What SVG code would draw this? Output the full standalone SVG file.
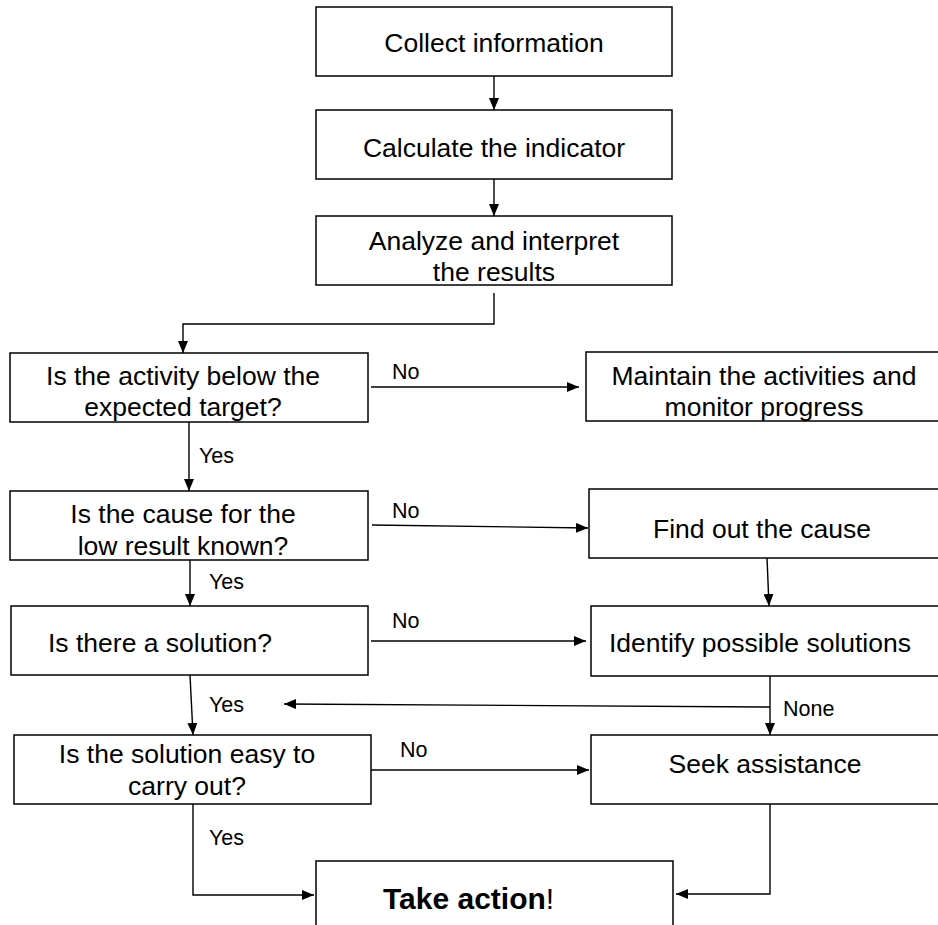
<svg xmlns="http://www.w3.org/2000/svg" width="938" height="925" viewBox="0 0 938 925">
<style>
.box{fill:#fff;stroke:#000;stroke-width:1.5}
.t{font-family:"Liberation Sans",Arial,sans-serif;font-size:26.5px;fill:#000;text-anchor:middle}
.l{font-family:"Liberation Sans",Arial,sans-serif;font-size:21.5px;fill:#000}
.c{fill:none;stroke:#000;stroke-width:1.4}
</style>
<defs>
<marker id="ah" viewBox="0 0 12 10" refX="12" refY="5" markerWidth="12" markerHeight="10" markerUnits="userSpaceOnUse" orient="auto">
<path d="M0,0 L12,5 L0,10 z" fill="#000"/>
</marker>
</defs>
<rect width="938" height="925" fill="#fff"/>
<g id="connectors">
<path class="c" d="M494,76 V110" marker-end="url(#ah)"/>
<path class="c" d="M494,179 V216" marker-end="url(#ah)"/>
<path class="c" d="M494,293 V324 H183 V353" marker-end="url(#ah)"/>
<path class="c" d="M371,387 H579" marker-end="url(#ah)"/>
<path class="c" d="M189,422 V491" marker-end="url(#ah)"/>
<path class="c" d="M372,525 L588,528" marker-end="url(#ah)"/>
<path class="c" d="M190,560 V606" marker-end="url(#ah)"/>
<path class="c" d="M767,558 L769,606" marker-end="url(#ah)"/>
<path class="c" d="M371,641 H586" marker-end="url(#ah)"/>
<path class="c" d="M770,676 V735" marker-end="url(#ah)"/>
<path class="c" d="M770,707 L284,704" marker-end="url(#ah)"/>
<path class="c" d="M190,675 L193,735" marker-end="url(#ah)"/>
<path class="c" d="M371,770 H589" marker-end="url(#ah)"/>
<path class="c" d="M193,804 V895 H314" marker-end="url(#ah)"/>
<path class="c" d="M770,803 V894 H676" marker-end="url(#ah)"/>
<text class="l" x="392" y="379">No</text>
<text class="l" x="392" y="518">No</text>
<text class="l" x="392" y="628">No</text>
<text class="l" x="400" y="757">No</text>
<text class="l" x="199" y="463">Yes</text>
<text class="l" x="209" y="589">Yes</text>
<text class="l" x="209" y="712">Yes</text>
<text class="l" x="209" y="845">Yes</text>
<text class="l" x="783" y="716">None</text>
</g>
<g id="collect">
<rect class="box" x="316" y="7" width="356" height="69"/>
<text class="t" x="494" y="52">Collect information</text>
</g>
<g id="calculate">
<rect class="box" x="316" y="110" width="356" height="69"/>
<text class="t" x="494" y="157">Calculate the indicator</text>
</g>
<g id="analyze">
<rect class="box" x="316" y="216" width="356" height="69"/>
<text class="t" x="494" y="250">Analyze and interpret</text>
<text class="t" x="494" y="281">the results</text>
</g>
<g id="q-below">
<rect class="box" x="10" y="353" width="358" height="69"/>
<text class="t" x="183" y="385">Is the activity below the</text>
<text class="t" x="183" y="416">expected target?</text>
</g>
<g id="maintain">
<rect class="box" x="586" y="352" width="360" height="69"/>
<text class="t" x="764" y="385">Maintain the activities and</text>
<text class="t" x="764" y="416">monitor progress</text>
</g>
<g id="q-cause">
<rect class="box" x="10" y="491" width="358" height="69"/>
<text class="t" x="183" y="523">Is the cause for the</text>
<text class="t" x="183" y="555">low result known?</text>
</g>
<g id="find-cause">
<rect class="box" x="589" y="489" width="360" height="69"/>
<text class="t" x="762" y="538">Find out the cause</text>
</g>
<g id="q-solution">
<rect class="box" x="11" y="606" width="357" height="69"/>
<text class="t" x="48" y="652" style="text-anchor:start">Is there a solution?</text>
</g>
<g id="identify">
<rect class="box" x="591" y="606" width="360" height="70"/>
<text class="t" x="760" y="652">Identify possible solutions</text>
</g>
<g id="q-easy">
<rect class="box" x="14" y="735" width="357" height="69"/>
<text class="t" x="187" y="763">Is the solution easy to</text>
<text class="t" x="187" y="795">carry out?</text>
</g>
<g id="seek">
<rect class="box" x="591" y="735" width="360" height="69"/>
<text class="t" x="765" y="773">Seek assistance</text>
</g>
<g id="take-action">
<rect class="box" x="316" y="861" width="357" height="80"/>
<text class="t" x="383" y="909" style="text-anchor:start;font-size:30px"><tspan font-weight="bold">Take action</tspan>!</text>
</g>
</svg>
